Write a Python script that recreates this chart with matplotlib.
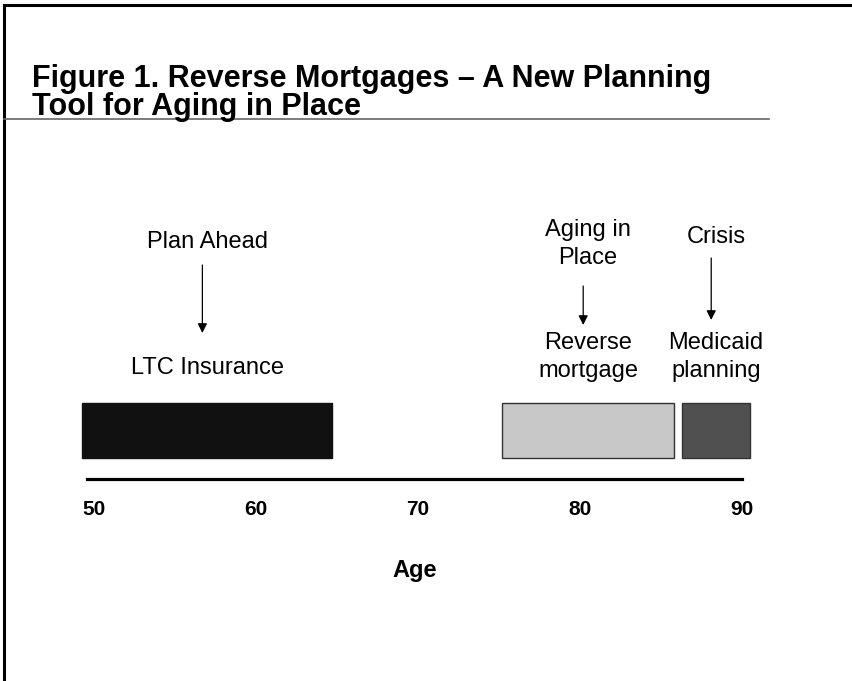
import matplotlib
matplotlib.use("Agg")
import matplotlib.pyplot as plt
from matplotlib.lines import Line2D

plt.rcParams['font.family'] = ['Liberation Sans', 'DejaVu Sans']

# planning stages along the age timeline
title_lines = ["Figure 1. Reverse Mortgages \u2013 A New Planning", "Tool for Aging in Place"]
stages = ["Plan Ahead", "Aging in\nPlace", "Crisis"]
tools = ["LTC Insurance", "Reverse\nmortgage", "Medicaid\nplanning"]
start_age = [49.3, 75.2, 86.3]
end_age = [64.7, 85.8, 90.5]
bar_colors = ["#111111", "#c8c8c8", "#505050"]
tick_ages = [50, 60, 70, 80, 90]

fig = plt.figure(figsize=(8.52, 6.81), dpi=100)
W, H = 852, 681

# outer frame: top and left rules
fig.add_artist(Line2D([4 / W, 1], [1 - 5 / H, 1 - 5 / H], color="black", lw=2.2))
fig.add_artist(Line2D([4 / W, 4 / W], [0, 1 - 5 / H], color="black", lw=2.2))

# title (two lines) and the rule under it
fig.text(32 / W, 1 - 87 / H, title_lines[0], fontsize=22, fontweight="bold", va="baseline", ha="left")
fig.text(32 / W, 1 - 115 / H, title_lines[1], fontsize=22, fontweight="bold", va="baseline", ha="left")
fig.add_artist(Line2D([4 / W, 769 / W], [1 - 119 / H, 1 - 119 / H], color="#666666", lw=1.2))

# timeline axes, y in pixels above the age line
ax = fig.add_axes([87 / W, 1 - 479 / H, (742 - 87) / W, 279 / H])
ax.set_xlim(49.58, 89.82)
ax.set_ylim(0, 279)
for side in ["top", "right", "left"]:
    ax.spines[side].set_visible(False)
ax.spines["bottom"].set_linewidth(2.3)
ax.set_yticks([])
ax.set_xticks(tick_ages)
ax.set_xticklabels([str(a) for a in tick_ages], fontsize=15, fontweight="bold")
ax.tick_params(axis="x", length=0, pad=15)
ax.set_xlabel("Age", fontsize=17, fontweight="bold", labelpad=29)

for i in range(len(stages)):
    ax.bar(start_age[i], 55, width=end_age[i] - start_age[i], bottom=21, align="edge",
           color=bar_colors[i], edgecolor="#333333" if i else bar_colors[i], lw=1, clip_on=False)

mid = [(s + e) / 2 for s, e in zip(start_age, end_age)]
stage_y = [237, 235, 242]
tool_y = [111, 122, 122]
arrow_top = [214, 193, 221]
arrow_bot = [146, 154, 159]
for i in range(len(stages)):
    ax.text(mid[i], stage_y[i], stages[i], ha="center", va="center", fontsize=17, linespacing=1.35)
    ax.text(mid[i], tool_y[i], tools[i], ha="center", va="center", fontsize=17, linespacing=1.35)
    ax.annotate("", xy=(mid[i] - 0.3, arrow_bot[i]), xytext=(mid[i] - 0.3, arrow_top[i]),
                arrowprops=dict(arrowstyle="-|>", color="black", lw=0.9, mutation_scale=14,
                                shrinkA=0, shrinkB=0))

fig.savefig("out.png", dpi=100)
